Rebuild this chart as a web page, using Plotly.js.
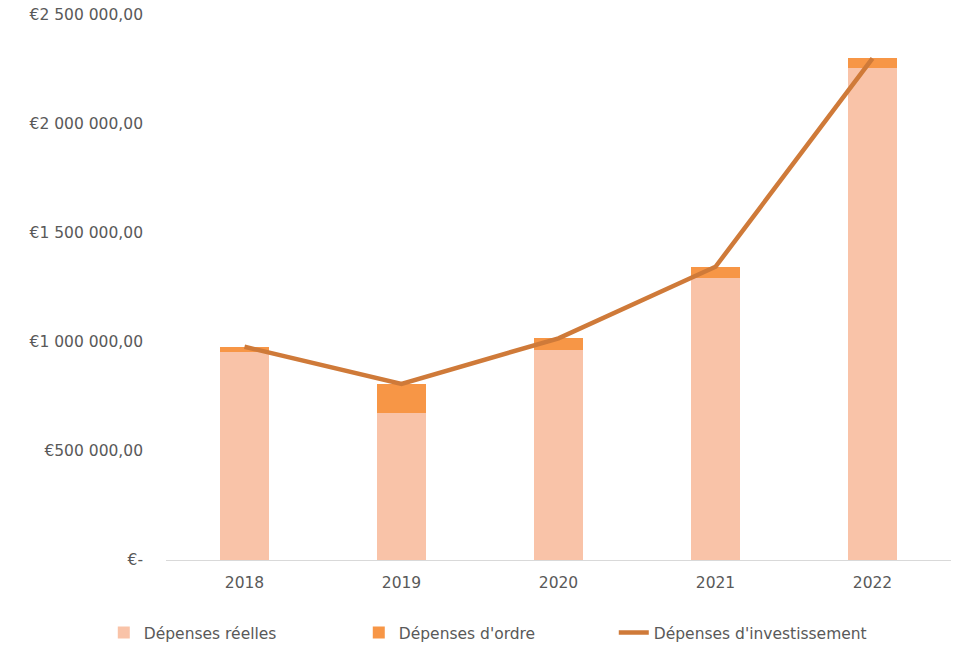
<!DOCTYPE html>
<html>
<head>
<meta charset="utf-8">
<script src="https://cdn.plot.ly/plotly-3.0.1.min.js"></script>
<style>html,body{margin:0;padding:0;background:#fff;}#chart{width:958px;height:646px;}</style>
</head>
<body>
<div id="chart"></div>
<script>
var years = ['2018', '2019', '2020', '2021', '2022'];
var depensesReelles = [954000, 676000, 963000, 1294000, 2255000];
var depensesOrdre = [24000, 131000, 54000, 51000, 46000];
var depensesInvestissement = [978000, 808000, 1017000, 1345000, 2301000];
var yTickVals = [0, 500000, 1000000, 1500000, 2000000, 2500000];
var yTickText = ['€-', '€500 000,00', '€1 000 000,00', '€1 500 000,00', '€2 000 000,00', '€2 500 000,00'];

var fontFam = '"DejaVu Sans", sans-serif';
var traces = [
  {type: 'bar', name: 'Dépenses réelles', x: years, y: depensesReelles,
   marker: {color: '#F9C3A8'}, hoverinfo: 'y'},
  {type: 'bar', name: "Dépenses d'ordre", x: years, y: depensesOrdre,
   marker: {color: '#F79646'}, hoverinfo: 'y'},
  {type: 'scatter', mode: 'lines', name: "Dépenses d'investissement", x: years, y: depensesInvestissement,
   line: {color: '#CF7A39', width: 4.5}}
];
var layout = {
  width: 958, height: 646,
  margin: {l: 166, r: 7, t: 15, b: 86, autoexpand: false},
  barmode: 'stack',
  bargap: 0.69,
  paper_bgcolor: '#fff', plot_bgcolor: '#fff',
  font: {family: fontFam, size: 15, color: '#595959'},
  showlegend: true,
  legend: {orientation: 'h', x: 0.408, xanchor: 'center', y: -0.134, yanchor: 'middle',
           entrywidth: 210, entrywidthmode: 'pixels',
           font: {family: fontFam, size: 15.5, color: '#595959'}, traceorder: 'normal'},
  xaxis: {type: 'category', showline: true, linecolor: '#D9D9D9', linewidth: 1,
          showgrid: false, zeroline: false, ticks: '', ticklabelstandoff: 8,
          tickfont: {family: fontFam, size: 15.5, color: '#595959'}},
  yaxis: {range: [0, 2500000], tickmode: 'array', tickvals: yTickVals, ticktext: yTickText,
          showgrid: false, zeroline: false, showline: false, ticks: '', ticklabelstandoff: 22,
          tickfont: {family: fontFam, size: 15.5, color: '#595959'}}
};
Plotly.newPlot('chart', traces, layout, {displayModeBar: false, staticPlot: true});
</script>
</body>
</html>
